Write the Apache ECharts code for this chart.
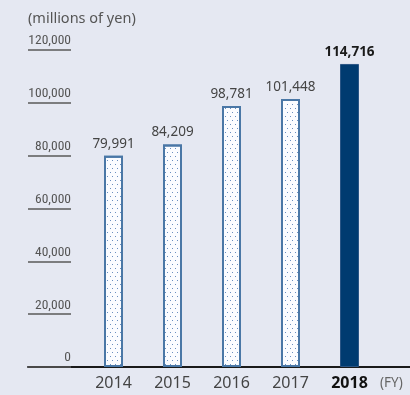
<!DOCTYPE html>
<html>
<head>
<meta charset="utf-8">
<script src="https://cdn.jsdelivr.net/npm/echarts@6/dist/echarts.min.js"></script>
<style>
  html, body { margin: 0; padding: 0; background: #e5e8f2; }
  #chart { width: 410px; height: 395px; }
</style>
</head>
<body>
<div id="chart"></div>
<script>
// Net sales by fiscal year (millions of yen)
const years = ['2014', '2015', '2016', '2017', '2018'];
const sales = [79991, 84209, 98781, 101448, 114716];
const yTicks = [0, 20000, 40000, 60000, 80000, 100000, 120000];
const unitLabel = '(millions of yen)';
const fyLabel = '(FY)';

const FONT = '"Noto Sans", "DejaVu Sans", sans-serif';
const NARROW = '"Roboto Condensed", "Noto Sans", sans-serif';
const latest = years.length - 1;

// light bars: white fill with a staggered dot screen
const dotted = {
  symbol: 'rect',
  symbolSize: 1,
  color: '#6b8fc0',
  dashArrayX: [[1, 4], [0, 2, 1, 2]],
  dashArrayY: [1, 3]
};

const barData = sales.map((v, i) => {
  if (i === latest) {
    return {
      value: v,
      itemStyle: { color: '#003b70', borderColor: '#2a5585', borderWidth: 1 },
      label: { fontWeight: 'bold', color: '#1a1a1a' }
    };
  }
  return {
    value: v,
    itemStyle: { color: '#fbfcff', borderColor: '#4a77a6', borderWidth: 2, decal: dotted }
  };
});

const chart = echarts.init(document.getElementById('chart'), null, { renderer: 'canvas' });

chart.setOption({
  backgroundColor: '#e5e8f2',
  animation: false,
  textStyle: { fontFamily: FONT },
  title: [
    {
      text: unitLabel, left: 28, top: 11, padding: 0,
      textStyle: { fontFamily: FONT, fontSize: 14.5, fontWeight: 'normal', color: '#555' }
    },
    {
      text: fyLabel, left: 380, top: 376, padding: 0,
      textStyle: { fontFamily: FONT, fontSize: 13.5, fontWeight: 'normal', color: '#666' }
    }
  ],
  grid: [
    { left: 84, right: 31, top: 50, bottom: 28 },
    { left: 28, right: 0, top: 50, bottom: 28 }
  ],
  xAxis: [
    {
      gridIndex: 0,
      type: 'category',
      data: years,
      axisLine: { show: false },
      axisTick: { show: false },
      axisLabel: {
        interval: 0,
        margin: 8,
        fontFamily: FONT,
        fontSize: 16,
        color: '#444',
        formatter: (val, idx) => idx === latest ? '{b|' + val + '}' : val,
        rich: { b: { fontFamily: FONT, fontSize: 16, fontWeight: 'bold', color: '#111' } }
      }
    },
    {
      gridIndex: 1,
      type: 'value',
      min: 0, max: 1,
      axisLine: { show: true, onZero: false, lineStyle: { color: '#1a1a1a', width: 1.8 } },
      axisTick: { show: false },
      axisLabel: { show: false },
      splitLine: { show: false }
    }
  ],
  yAxis: [
    {
      gridIndex: 0,
      type: 'value',
      min: yTicks[0], max: yTicks[yTicks.length - 1], interval: yTicks[1] - yTicks[0],
      show: false
    },
    {
      gridIndex: 1,
      type: 'value',
      min: yTicks[0], max: yTicks[yTicks.length - 1], interval: yTicks[1] - yTicks[0],
      axisLine: { show: false },
      splitLine: { show: false },
      axisTick: { show: true, inside: true, length: 43, lineStyle: { color: '#5a5a5a', width: 1.5 } },
      axisLabel: {
        inside: true,
        margin: 43,
        align: 'right',
        verticalAlign: 'bottom',
        padding: [0, 0, 2, 0],
        fontFamily: NARROW,
        fontSize: 13.5,
        color: '#555',
        formatter: v => v.toLocaleString('en-US')
      }
    }
  ],
  series: [
    {
      type: 'bar',
      xAxisIndex: 0,
      yAxisIndex: 0,
      data: barData,
      barWidth: 19,
      label: {
        show: true,
        position: 'top',
        distance: 5,
        fontFamily: FONT,
        fontSize: 13.5,
        color: '#444',
        formatter: p => p.value.toLocaleString('en-US')
      }
    }
  ]
});
</script>
</body>
</html>
